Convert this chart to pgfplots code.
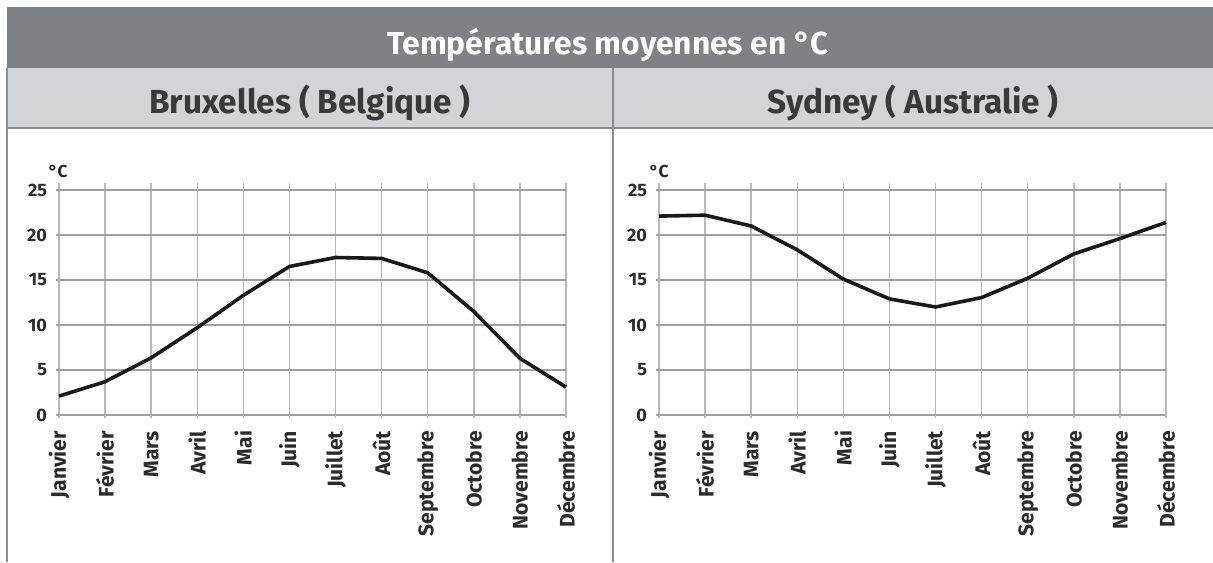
\documentclass[border=0pt]{standalone}
\usepackage{fontspec}
\setmainfont{Fira Sans}
\usepackage{pgfplots}
\usepackage{pgfplotstable}
\pgfplotsset{compat=1.18}

\definecolor{bandDark}{HTML}{808185}
\definecolor{bandLight}{HTML}{D3D4D6}
\definecolor{frameGray}{HTML}{8C8D90}
\definecolor{gridH}{HTML}{A0A0A0}
\definecolor{gridV}{HTML}{BABABA}
\definecolor{txt}{HTML}{2B2B2B}
\definecolor{subTxt}{HTML}{3A3A3A}

% monthly means, month index 0 = Janvier
\pgfplotstableread{
m t
0 2.1
1 3.7
2 6.35
3 9.7
4 13.3
5 16.5
6 17.5
7 17.4
8 15.8
9 11.5
10 6.3
11 3.1
}\bruxelles

\pgfplotstableread{
m t
0 22.1
1 22.2
2 21.0
3 18.35
4 15.1
5 12.9
6 12.0
7 13.05
8 15.2
9 17.9
10 19.6
11 21.4
}\sydney

\pgfplotsset{
  tempaxis/.style={
    scale only axis,
    width=380.25pt, height=174.15pt,
    anchor=south west,
    xmin=0, xmax=11, ymin=0, ymax=25.8,
    xtick={0,...,11},
    xticklabels={Janvier,Février,Mars,Avril,Mai,Juin,Juillet,Août,Septembre,Octobre,Novembre,Décembre},
    ytick={0,5,...,25},
    axis line style={draw=none},
    xmajorgrids, ymajorgrids,
    x grid style={gridV, line width=1.1pt},
    y grid style={gridH, line width=1.1pt},
    tick align=outside, tick pos=left,
    major tick length=2.5pt,
    x tick style={gridV, line width=1.1pt},
    y tick style={gridH, line width=1.1pt},
    xticklabel style={yshift=-6pt, rotate=90, anchor=east, text=txt,
      font=\fontsize{15.8}{15.8}\selectfont\bfseries},
    yticklabel style={xshift=-3pt, text=txt,
      font=\fontsize{13.5}{13.5}\selectfont\bfseries},
    /pgf/number format/assume math mode=true,
    clip=false,
  },
  templine/.style={black!90, line width=2.7pt, line join=round, no markers},
}

\begin{document}
\begin{tikzpicture}[x=0.75pt, y=0.75pt]
  \useasboundingbox (0,0) rectangle (1213,562);
  \fill[white] (0,0) rectangle (1213,562);
  \fill[bandDark] (7,555) rectangle (1213,494);
  \fill[bandLight] (7,494) rectangle (1213,434);

  \node[anchor=base, text=white, font=\fontsize{23.8}{23.8}\selectfont\bfseries]
    at (608,508) {Températures moyennes en °C};
  \node[anchor=base, text=subTxt, font=\fontsize{25}{25}\selectfont\bfseries]
    at (310,449) {Bruxelles ( Belgique )};
  \node[anchor=base, text=subTxt, font=\fontsize{25}{25}\selectfont\bfseries]
    at (913,449) {Sydney ( Australie )};

  \begin{axis}[tempaxis, at={(44.25pt,110.25pt)}]
    \addplot[templine] table[x=m, y=t] {\bruxelles};
  \end{axis}
  \begin{axis}[tempaxis, at={(494.25pt,110.25pt)}]
    \addplot[templine] table[x=m, y=t] {\sydney};
  \end{axis}

  \node[text=txt, font=\fontsize{13}{13}\selectfont\bfseries] at (58,391) {°C};
  \node[text=txt, font=\fontsize{13}{13}\selectfont\bfseries] at (659,391) {°C};

  \draw[frameGray, line width=1.5pt] (7,434) -- (1213,434);
  \draw[frameGray, line width=1.5pt] (7,494) -- (7,0);
  \draw[frameGray, line width=1.5pt] (613,494) -- (613,0);
\end{tikzpicture}
\end{document}
